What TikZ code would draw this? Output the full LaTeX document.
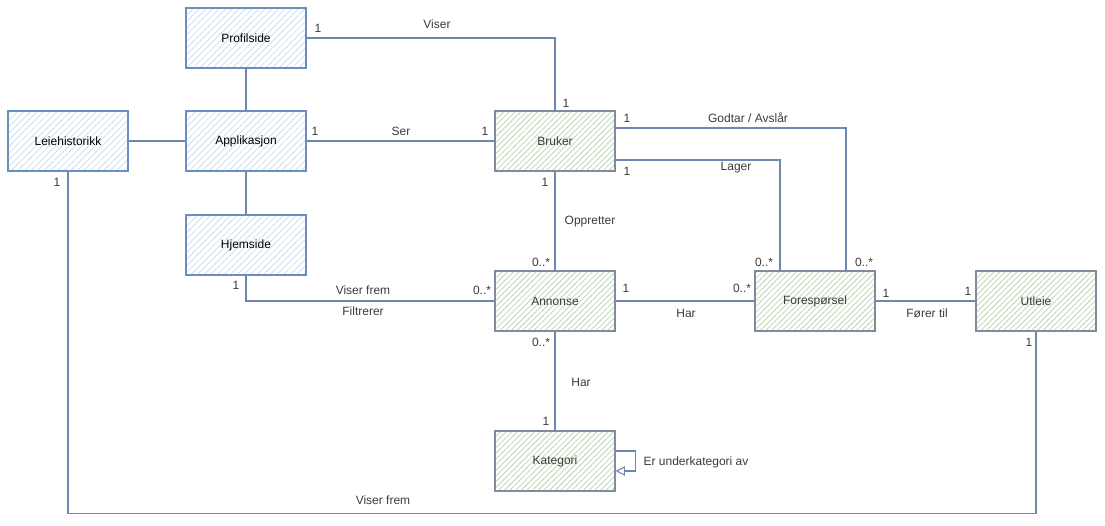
\documentclass[tikz,border=0pt]{standalone}
\usepackage{fontspec}
\setmainfont{Liberation Sans}
\usetikzlibrary{patterns.meta,arrows.meta,calc}
\definecolor{blueline}{HTML}{6C8EBF}
\definecolor{bluehatch}{HTML}{C6D8F2}
\definecolor{greenline}{HTML}{7F8C9C}
\definecolor{greenhatch}{HTML}{BCD6B3}
\definecolor{linkcol}{HTML}{6F86AE}
\definecolor{txt}{HTML}{3A3A3A}

\begin{document}
\begin{tikzpicture}[x=0.75pt, y=-0.75pt,
    box/.style={minimum width=90pt, minimum height=45pt, inner sep=0pt,
        line width=0.8pt, font={\fontsize{9}{11}\selectfont}},
    bluebox/.style={box, draw=blueline, text=black,
        pattern={Lines[angle=45,distance=3.5pt,line width=0.5pt]}, pattern color=bluehatch},
    greenbox/.style={box, draw=greenline, text=txt,
        pattern={Lines[angle=45,distance=3pt,line width=0.6pt]}, pattern color=greenhatch},
    link/.style={draw=linkcol, line width=0.8pt},
    lbl/.style={text=txt, inner sep=0pt, font={\fontsize{9}{11}\selectfont}}
]
    \useasboundingbox (0,0) rectangle (1105,525);

    % classes
    \node[bluebox] (profil) at (246,38) {Profilside};
    \node[bluebox] (app) at (246,141) {Applikasjon};
    \node[bluebox] (leie) at (68,141) {Leiehistorikk};
    \node[bluebox] (hjem) at (246,245) {Hjemside};
    \node[greenbox] (bruker) at (555,141) {Bruker};
    \node[greenbox] (annonse) at (555,301) {Annonse};
    \node[greenbox] (kat) at (555,461) {Kategori};
    \node[greenbox] (foresp) at (815,301) {Forespørsel};
    \node[greenbox] (utleie) at (1036,301) {Utleie};

    % associations
    \draw[link] (profil) -- (app);
    \draw[link] (app) -- (hjem);
    \draw[link] (leie) -- (app);
    \draw[link] (profil.east) -| (bruker.north);
    \draw[link] (app) -- (bruker);
    \draw[link] ($(bruker.east)+(0,-13)$) -| ($(foresp.north)+(31,0)$);
    \draw[link] ($(bruker.east)+(0,19)$) -| ($(foresp.north)+(-35,0)$);
    \draw[link] (bruker) -- (annonse);
    \draw[link] (hjem.south) |- (annonse.west);
    \draw[link] (annonse) -- (foresp);
    \draw[link] (annonse) -- (kat);
    \draw[link] (foresp) -- (utleie);
    \draw[link] (utleie.south) -- ++(0,182) -| (leie.south);
    \draw[link, -{Triangle[open, length=7pt, width=7pt]}]
        ($(kat.east)+(0,-10)$) -- ++(20,0) -- ++(0,20) -- ($(kat.east)+(0,10)$);

    % labels
    \node[lbl] (m1) at (318,28) {1};
    \node[lbl] (viser) at (437,24) {Viser};
    \node[lbl] (m2) at (566,103) {1};
    \node[lbl] (m3) at (315,131) {1};
    \node[lbl] (ser) at (401,131) {Ser};
    \node[lbl] (m4) at (485,131) {1};
    \node[lbl] (m5) at (627,118) {1};
    \node[lbl] (godtar) at (748,118) {Godtar / Avslår};
    \node[lbl] (m6) at (627,171) {1};
    \node[lbl] (lager) at (736,168) {Lager};
    \node[lbl] (m7) at (545,182) {1};
    \node[lbl] (oppr) at (590,222) {Oppretter};
    \node[lbl] (m8) at (541,262) {0..*};
    \node[lbl] (m9) at (764,262) {0..*};
    \node[lbl] (m10) at (864,262) {0..*};
    \node[lbl] (m11) at (57,182) {1};
    \node[lbl] (m12) at (236,285) {1};
    \node[lbl] (viserfrem) at (363,290) {Viser frem};
    \node[lbl] (filtr) at (363,311) {Filtrerer};
    \node[lbl] (m13) at (482,290) {0..*};
    \node[lbl] (m14) at (626,288) {1};
    \node[lbl] (m15) at (742,288) {0..*};
    \node[lbl] (har) at (686,313) {Har};
    \node[lbl] (m16) at (541,342) {0..*};
    \node[lbl] (har2) at (581,382) {Har};
    \node[lbl] (m17) at (546,421) {1};
    \node[lbl] (under) at (696,462) {Er underkategori av};
    \node[lbl] (m18) at (886,293) {1};
    \node[lbl] (forer) at (927,313) {Fører til};
    \node[lbl] (m19) at (968,291) {1};
    \node[lbl] (m20) at (1029,342) {1};
    \node[lbl] (viserfrem2) at (383,500) {Viser frem};
\end{tikzpicture}
\end{document}
